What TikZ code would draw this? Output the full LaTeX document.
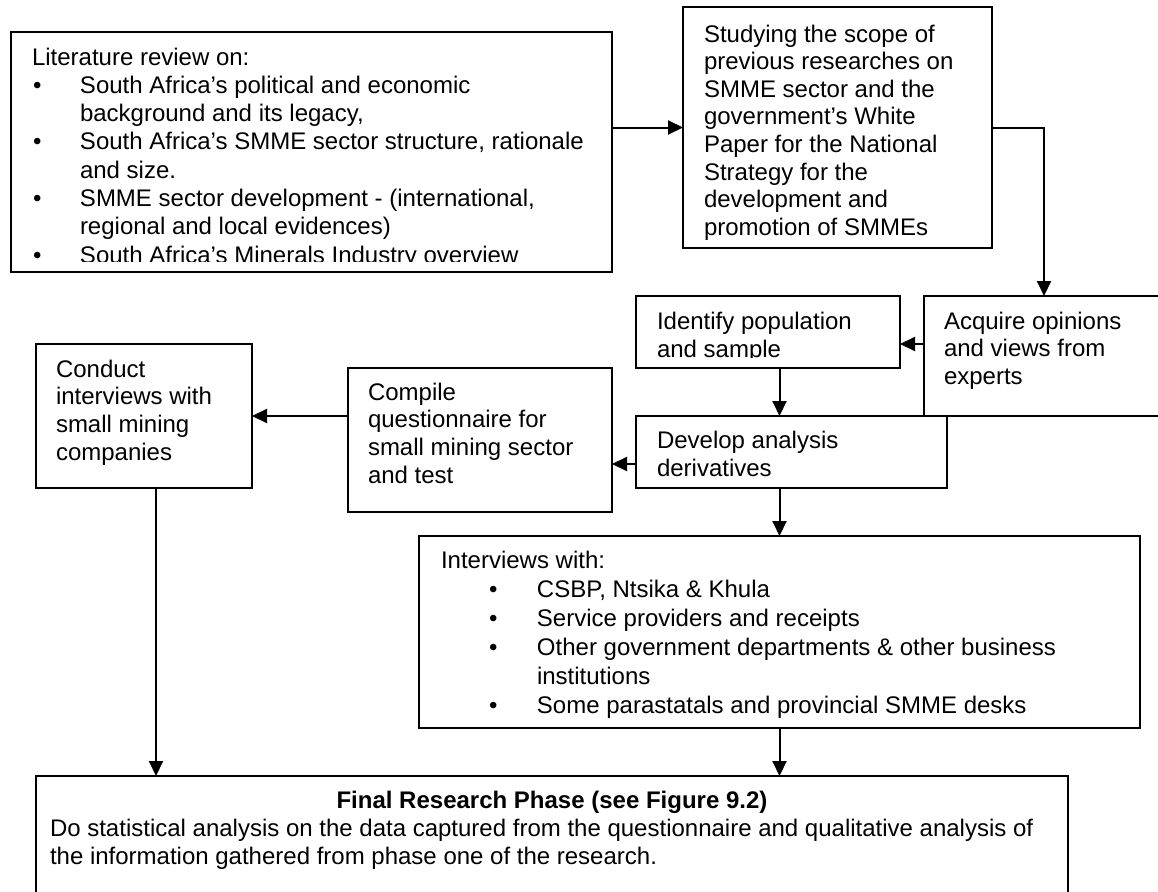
\documentclass[tikz,border=0pt]{standalone}
\usepackage{fontspec}
\setmainfont{Liberation Sans}
\usetikzlibrary{arrows.meta}
\newcommand{\fs}[1]{\fontsize{24}{#1}\selectfont}
\begin{document}
\begin{tikzpicture}[x=1pt,y=-1pt,
  box/.style={draw, line width=2pt, inner sep=0pt, outer sep=0pt, rectangle},
  txt/.style={anchor=base west, inner sep=0pt, outer sep=0pt},
  arr/.style={line width=2pt, -{Triangle[length=15pt,width=14pt]}}]
\clip (0,0) rectangle (1158,891);

% boxes
\node[box, minimum width=601pt, minimum height=240pt] (A) at (311.5,152) {};
\node[box, minimum width=309pt, minimum height=241pt] (B) at (837.5,127.5) {};
\node[box, minimum width=264pt, minimum height=72pt] (C) at (768,332) {};
\node[box, minimum width=240pt, minimum height=120pt] (D) at (1044,356) {};
\node[box, minimum width=311pt, minimum height=72pt] (E) at (791.5,452) {};
\node[box, minimum width=264pt, minimum height=144pt] (F) at (480,440) {};
\node[box, minimum width=216pt, minimum height=144pt] (G) at (144,416) {};
\node[box, minimum width=721pt, minimum height=192pt] (H) at (779.5,632) {};
\node[box, minimum width=1032pt, minimum height=124pt] (Fin) at (552,838) {};

% texts
\coordinate (aclip) at (0,261.5);
\begin{scope}
\clip (A.north west) rectangle (A.east |- aclip);
\node[txt, font=\fs{28.3}] (Atext) at (32,65) {\begin{tabular}[t]{@{}p{48pt}@{}l@{}}
\multicolumn{2}{@{}l@{}}{Literature review on:}\\
\hspace*{1pt}\textbullet & South Africa’s political and economic\\
 & background and its legacy,\\
\hspace*{1pt}\textbullet & South Africa’s SMME sector structure, rationale\\
 & and size.\\
\hspace*{1pt}\textbullet & SMME sector development - (international,\\
 & regional and local evidences)\\
\hspace*{1pt}\textbullet & South Africa’s Minerals Industry overview
\end{tabular}};
\end{scope}

\node[txt, font=\fs{27.6}] (Btext) at (704,42) {\begin{tabular}[t]{@{}l@{}}
Studying the scope of\\
previous researches on\\
SMME sector and the\\
government’s White\\
Paper for the National\\
Strategy for the\\
development and\\
promotion of SMMEs
\end{tabular}};

\coordinate (cclip) at (0,357.5);
\begin{scope}
\clip (C.north west) rectangle (C.east |- cclip);
\node[txt, font=\fs{28}] (Ctext) at (657,329) {\begin{tabular}[t]{@{}l@{}}
Identify population\\
and sample
\end{tabular}};
\end{scope}

\node[txt, font=\fs{27.5}] (Dtext) at (944,329) {\begin{tabular}[t]{@{}l@{}}
Acquire opinions\\
and views from\\
experts
\end{tabular}};

\node[txt, font=\fs{28}] (Etext) at (657,448) {\begin{tabular}[t]{@{}l@{}}
Develop analysis\\
derivatives
\end{tabular}};

\node[txt, font=\fs{27.7}] (Ftext) at (368,400) {\begin{tabular}[t]{@{}l@{}}
Compile\\
questionnaire for\\
small mining sector\\
and test
\end{tabular}};

\node[txt, font=\fs{27.7}] (Gtext) at (56,377) {\begin{tabular}[t]{@{}l@{}}
Conduct\\
interviews with\\
small mining\\
companies
\end{tabular}};

\node[txt, font=\fs{29}] (Htext) at (441,568) {\begin{tabular}[t]{@{}p{96pt}@{}l@{}}
\multicolumn{2}{@{}l@{}}{Interviews with:}\\
\hspace*{48pt}\textbullet & CSBP, Ntsika \& Khula\\
\hspace*{48pt}\textbullet & Service providers and receipts\\
\hspace*{48pt}\textbullet & Other government departments \& other business\\
 & institutions\\
\hspace*{48pt}\textbullet & Some parastatals and provincial SMME desks
\end{tabular}};

\node[anchor=base, inner sep=0pt, font=\fs{28}\bfseries] (FinTitle) at (552,808) {Final Research Phase (see Figure 9.2)};
\node[txt, font=\fs{28}] (FinText) at (50,836) {\begin{tabular}[t]{@{}l@{}}
Do statistical analysis on the data captured from the questionnaire and qualitative analysis of\\
the information gathered from phase one of the research.
\end{tabular}};

% connectors
\draw[arr] (A.east |- B.west) -- (B.west);
\draw[arr] (B.east) -| (D.north);
\coordinate (dc) at (0,344);
\draw[arr] (D.west |- dc) -- (C.east |- dc);
\draw[arr] (C.south -| H.north) -- (E.north -| H.north);
\coordinate (ef) at (0,464);
\draw[arr] (E.west |- ef) -- (F.east |- ef);
\draw[arr] (F.west |- G.east) -- (G.east);
\draw[arr] (E.south -| H.north) -- (H.north);
\draw[arr] (H.south) -- (H.south |- Fin.north);
\coordinate (gf) at (156,0);
\draw[arr] (G.south -| gf) -- (Fin.north -| gf);
\end{tikzpicture}
\end{document}
